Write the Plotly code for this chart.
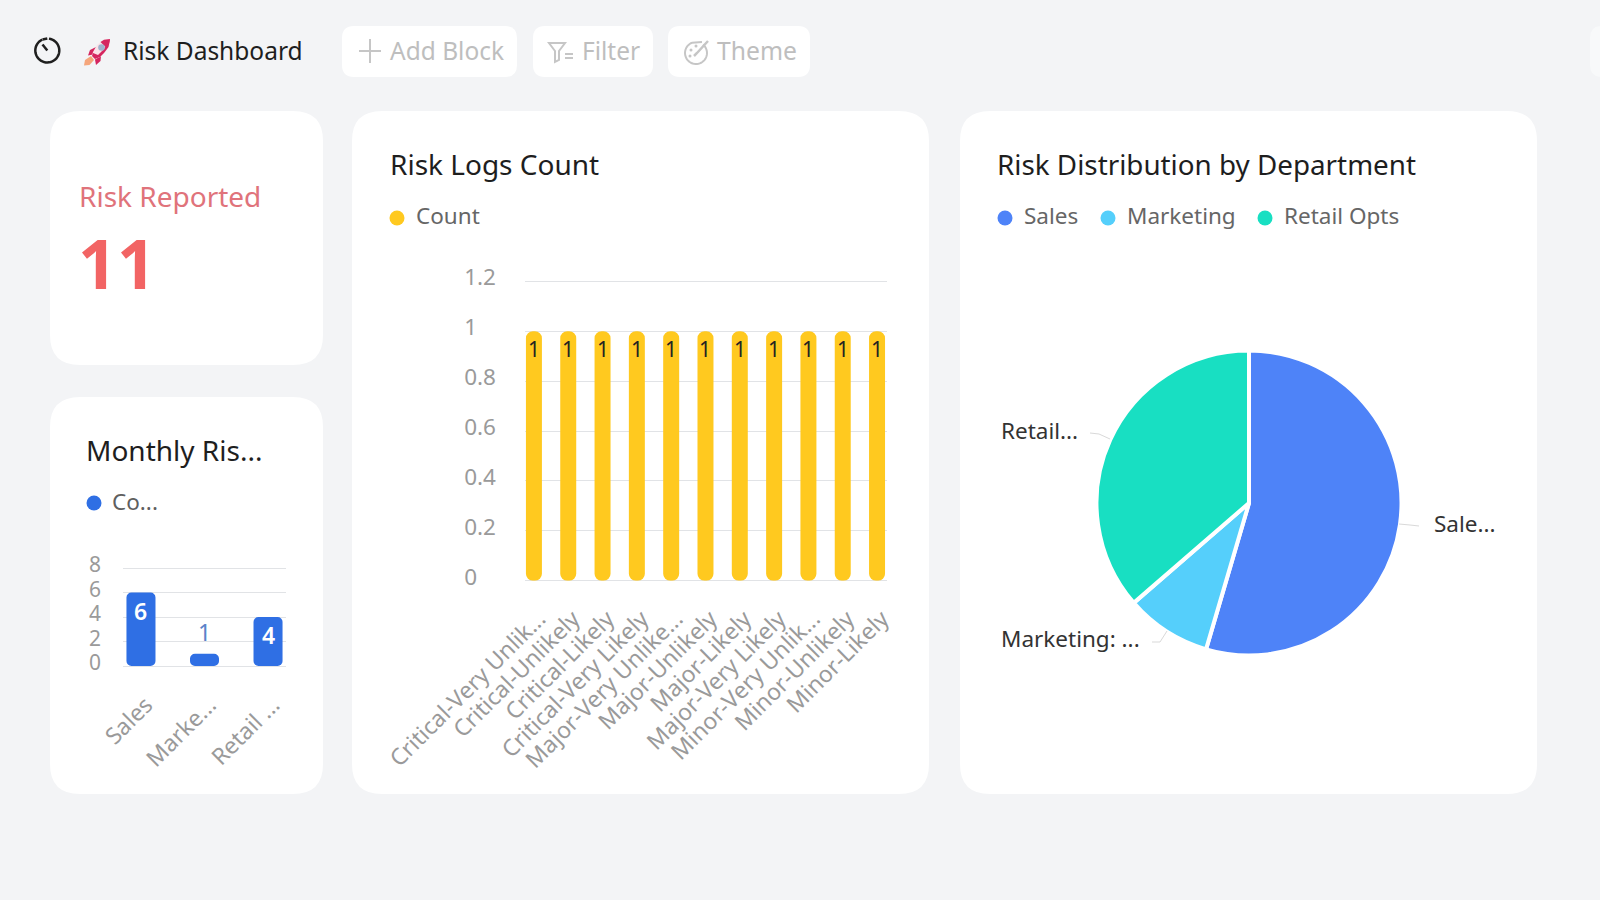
import math
import plotly.graph_objects as go

# ---- data ----
dept_cats = ["Sales", "Marketing", "Retail Opts"]
dept_tick_labels = ["Sales", "Marke...", "Retail ..."]
dept_counts = [6, 1, 4]
dept_ticks = [0, 2, 4, 6, 8]

risk_cats = ["Critical-Very Unlikely", "Critical-Unlikely", "Critical-Likely", "Critical-Very Likely",
             "Major-Very Unlikely", "Major-Unlikely", "Major-Likely", "Major-Very Likely",
             "Minor-Very Unlikely", "Minor-Unlikely", "Minor-Likely"]
risk_tick_labels = ["Critical-Very Unlik...", "Critical-Unlikely", "Critical-Likely", "Critical-Very Likely",
                    "Major-Very Unlike...", "Major-Unlikely", "Major-Likely", "Major-Very Likely",
                    "Minor-Very Unlik...", "Minor-Unlikely", "Minor-Likely"]
risk_counts = [1, 1, 1, 1, 1, 1, 1, 1, 1, 1, 1]
risk_ticks = [0, 0.2, 0.4, 0.6, 0.8, 1, 1.2]
risk_tick_text = ["0\u2007\u2008", "0.2", "0.4", "0.6", "0.8", "1\u2007\u2008", "1.2"]

pie_labels = ["Sales", "Marketing", "Retail Opts"]
pie_values = [6, 1, 4]
total_reported = 11

# ---- style ----
FONT = "Noto Sans"
BG = "#F3F4F6"
YELLOW = "#FFC91F"
BLUE = "#2F6FE4"
PIE_COLORS = ["#4E83F8", "#55CFFB", "#18DFC2"]
GRID = "#E1E3E6"
TICK = "#9A9A9A"
W, H = 1600, 900


def px(x):
    return x / W


def py(y):
    return 1 - y / H


def rrect(x0, y0, x1, y1, r):
    X0, X1, Y0, Y1 = px(x0), px(x1), py(y0), py(y1)
    RX, RY = r / W, r / H
    return (f"M{X0+RX},{Y0} L{X1-RX},{Y0} Q{X1},{Y0} {X1},{Y0-RY} L{X1},{Y1+RY} Q{X1},{Y1} {X1-RX},{Y1} "
            f"L{X0+RX},{Y1} Q{X0},{Y1} {X0},{Y1+RY} L{X0},{Y0-RY} Q{X0},{Y0} {X0+RX},{Y0} Z")


def pth(points, close=False):
    s = "M" + " L".join(f"{px(a)},{py(b)}" for a, b in points)
    return s + (" Z" if close else "")


def arc(cx, cy, r, a0, a1, n=40):
    return [(cx + r * math.sin(math.radians(a0 + (a1 - a0) * i / n)),
             cy - r * math.cos(math.radians(a0 + (a1 - a0) * i / n))) for i in range(n + 1)]


shapes = []


def card(x0, y0, x1, y1, r=30, fill="white"):
    shapes.append(dict(type="path", xref="paper", yref="paper", path=rrect(x0, y0, x1, y1, r),
                       fillcolor=fill, line=dict(width=0), layer="below"))


def stroke(points, color="#C6C6C6", width=2, close=False, fill=None):
    shapes.append(dict(type="path", xref="paper", yref="paper", path=pth(points, close),
                       line=dict(color=color, width=width), fillcolor=fill if fill else "rgba(0,0,0,0)", layer="above"))


def solid(points, fill):
    shapes.append(dict(type="path", xref="paper", yref="paper", path=pth(points, True),
                       line=dict(width=0), fillcolor=fill, layer="above"))


def dot(cx, cy, r, color):
    shapes.append(dict(type="circle", xref="paper", yref="paper", x0=px(cx - r), x1=px(cx + r),
                       y0=py(cy + r), y1=py(cy - r), fillcolor=color, line=dict(width=0), layer="above"))


annotations = []


def label(x, y, text, size, color, anchor="left", weight=None):
    annotations.append(dict(xref="paper", yref="paper", x=px(x), y=py(y), text=text, showarrow=False,
                            xanchor=anchor, yanchor="middle", borderpad=0, xshift=0,
                            font=dict(family=FONT, size=size, color=color, weight=weight)))


# cards and toolbar
card(50, 111, 323, 365)
card(50, 397, 323, 794)
card(352, 111, 929, 794)
card(960, 111, 1537, 794)
card(342, 26, 517, 77, 12)
card(533, 26, 653, 77, 12)
card(668, 26, 810, 77, 12)
card(1590, 26, 1640, 77, 12, "#F8F9FA")

# clock icon
stroke(arc(47.3, 50.5, 12, 8, 335), "#1F1F1F", 2.5)
stroke([(47.3, 50.5), (42.5, 44.5)], "#1F1F1F", 2.5)
stroke([(47.3, 38.5), (42.5, 39.5)], "#1F1F1F", 2.5)

# rocket icon
solid([(91, 56), (85, 60), (84, 65.5), (89.5, 65), (94, 60)], "#F5A67C")
solid([(96, 47), (90, 50), (88, 55.5), (93, 54.5)], "#D5265F")
solid([(101, 56), (100.5, 61), (96, 65), (95, 59.5)], "#D5265F")
solid([(110, 39), (103, 40), (97, 45), (93, 52), (92, 56), (95, 59), (100, 57), (106, 51), (110, 45)], "#FBE3E9")
solid([(110, 39), (108.5, 47), (104, 53), (100, 57), (95, 59), (92, 56), (93, 53), (98, 55), (104, 49)], "#D5265F")
solid([(110, 39), (104, 39.8), (100.5, 42), (106.5, 48), (109, 44)], "#D5265F")
dot(101.5, 47.5, 3.3, "#9FB2CC")

# plus icon
stroke([(359, 51), (381, 51)])
stroke([(370, 39), (370, 63)])

# filter icon
stroke([(549, 43), (565, 43), (559, 51), (559, 60), (555, 62), (555, 51)], close=True)
stroke([(565, 54), (573, 54)])
stroke([(565, 58), (573, 58)])

# palette icon
stroke(arc(696, 53, 11, 40, 340) + [(702, 42)])
stroke([(708, 41), (697, 53), (694, 56)], width=2.5)
dot(691, 50, 1.5, "#C6C6C6")
dot(690, 56, 1.5, "#C6C6C6")
dot(696, 46, 1.5, "#C6C6C6")

# header text
label(122, 51, "Risk Dashboard", 24.5, "#1E1E1E")
label(389, 51, "Add Block", 24.5, "#BEBEBE")
label(581, 51, "Filter", 24.5, "#BEBEBE")
label(716, 51, "Theme", 24.7, "#BEBEBE")

# KPI card
label(78, 196, "Risk Reported", 28, "#E0737B")
label(77, 262, str(total_reported), 68, "#F26464", weight=700)

# card titles and legends
label(85, 450, "Monthly Ris...", 28, "#1E1E1E")
dot(94, 503, 7.5, BLUE)
label(111, 501, "Co...", 22.5, "#5F5F5F")

label(389, 164, "Risk Logs Count", 28, "#1E1E1E")
dot(397, 218, 7.5, YELLOW)
label(415, 215, "Count", 22.5, "#666666")

label(996, 164, "Risk Distribution by Department", 27.8, "#1E1E1E")
dot(1005, 218, 7.5, PIE_COLORS[0])
label(1023, 215, "Sales", 22.5, "#666666")
dot(1108, 218, 7.5, PIE_COLORS[1])
label(1126, 215, "Marketing", 22.5, "#666666")
dot(1265, 218, 7.5, PIE_COLORS[2])
label(1283, 215, "Retail Opts", 22.5, "#666666")

# pie labels and leaders
label(1433, 523, "Sale...", 22.5, "#333333")
label(1000, 430, "Retail...", 22.5, "#333333")
label(1000, 638, "Marketing: ...", 22.5, "#333333")
stroke([(1399, 524), (1410, 525), (1419, 526)], "#D9D9D9", 1)
stroke([(1090, 433), (1099, 434), (1110, 439)], "#D9D9D9", 1)
stroke([(1152, 642), (1160, 642), (1167, 631)], "#D9D9D9", 1)

fig = go.Figure()

# an explicit base makes Plotly round all four corners of each bar
fig.add_trace(go.Bar(x=dept_cats, y=dept_counts, base=0, width=0.457,
                     marker=dict(color=BLUE, cornerradius=5, line=dict(width=0)),
                     xaxis="x", yaxis="y", showlegend=False, name="Count"))
fig.add_trace(go.Bar(x=risk_cats, y=risk_counts, base=0, width=0.466,
                     marker=dict(color=YELLOW, cornerradius=8, line=dict(width=0)),
                     xaxis="x2", yaxis="y2", showlegend=False, name="Count"))

fig.add_trace(go.Pie(labels=pie_labels, values=pie_values, sort=False, direction="clockwise", rotation=0,
                     textinfo="none", showlegend=False,
                     marker=dict(colors=PIE_COLORS, line=dict(color="white", width=4)),
                     domain=dict(x=[px(1249 - 152.5), px(1249 + 152.5)], y=[py(503 + 152.5), py(503 - 152.5)])))

# value labels, placed through the axes
for c, v in zip(dept_cats, dept_counts):
    inside = v > 1
    annotations.append(dict(xref="x", yref="y", x=c, y=v, yshift=-18 if inside else 22, text=str(v), showarrow=False,
                            font=dict(family=FONT, size=23, color="white" if inside else "#5B82C9",
                                      weight=600 if inside else 400)))
for c, v in zip(risk_cats, risk_counts):
    annotations.append(dict(xref="x2", yref="y2", x=c, y=v, yshift=-18, text=str(v), showarrow=False,
                            font=dict(family=FONT, size=21, color="#222222")))

axis_common = dict(automargin=False, showgrid=False, zeroline=False, showline=False, ticks="", tickangle=-45,
                   tickfont=dict(family=FONT, size=23, color=TICK), type="category", tickmode="array",
                   ticklabelshift=5)
yaxis_common = dict(automargin=False, showgrid=True, gridcolor=GRID, gridwidth=1, zeroline=True, zerolinecolor=GRID,
                    zerolinewidth=1, showline=False, ticks="", tickmode="array")

# the ranges run a little past the top tick, otherwise Plotly drops that gridline
DEPT_TOP = 8.2
RISK_TOP = 1.21

fig.update_layout(
    width=W, height=H, autosize=False,
    margin=dict(l=0, r=0, t=0, b=0),
    paper_bgcolor=BG, plot_bgcolor="rgba(0,0,0,0)",
    barmode="overlay", showlegend=False,
    shapes=shapes, annotations=annotations,
    xaxis=dict(axis_common, domain=[px(123), px(286)], anchor="y", range=[-0.283, 2.283],
               tickvals=dept_cats, ticktext=dept_tick_labels, ticklabelstandoff=20),
    yaxis=dict(yaxis_common, domain=[py(666), py(565.55)], anchor="x", range=[0, DEPT_TOP],
               tickvals=dept_ticks, ticktext=[str(t) for t in dept_ticks], ticklabelstandoff=21,
               ticklabelshift=-3, tickfont=dict(family=FONT, size=21, color=TICK)),
    xaxis2=dict(axis_common, domain=[px(525), px(887)], anchor="y2", range=[-0.26, 10.29],
                tickvals=risk_cats, ticktext=risk_tick_labels, ticklabelstandoff=19),
    yaxis2=dict(yaxis_common, domain=[py(580.8), py(278.7)], anchor="x2", range=[0, RISK_TOP],
                tickvals=risk_ticks, ticktext=risk_tick_text, ticklabelstandoff=28,
                ticklabelshift=-4, tickfont=dict(family=FONT, size=22.5, color=TICK)),
)

fig.write_html("out.html", config=dict(displayModeBar=False),
               post_script="document.body.style.margin='0';document.body.style.overflow='hidden';")
